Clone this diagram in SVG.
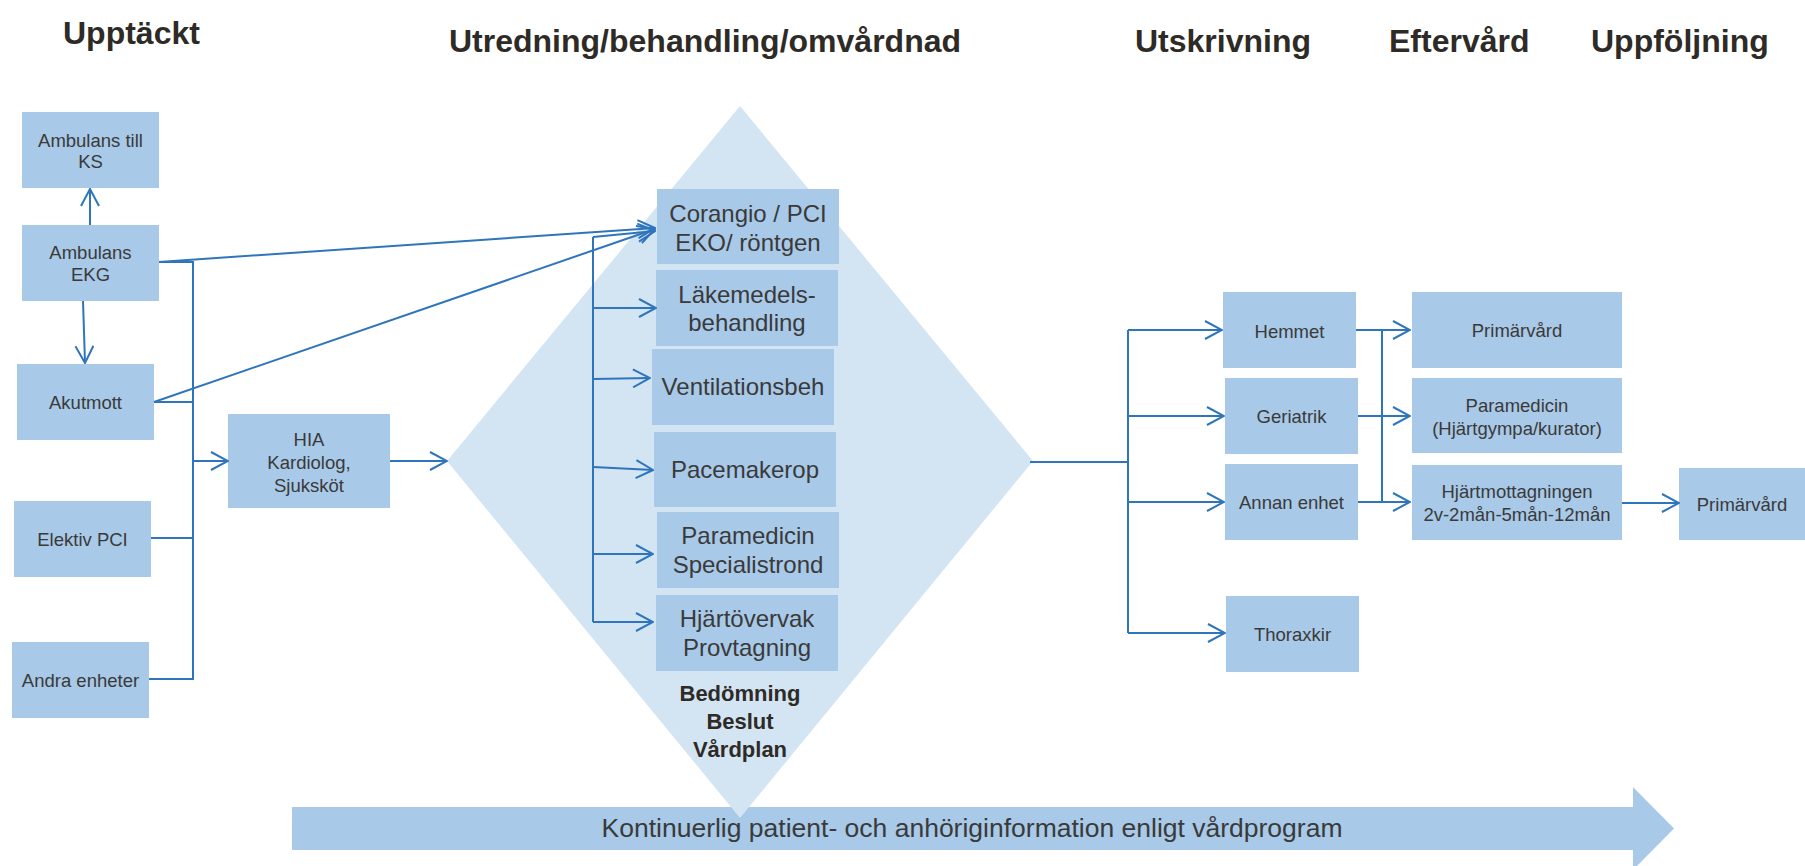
<svg xmlns="http://www.w3.org/2000/svg" width="1805" height="866" viewBox="0 0 1805 866">
<defs>
<style>
.box{fill:#a8c9e7}
.t{font-family:"Liberation Sans",Arial,sans-serif;font-size:18.5px;fill:#3a3a3a;text-anchor:middle}
.tm{font-family:"Liberation Sans",Arial,sans-serif;font-size:24px;fill:#3a3a3a;text-anchor:middle}
.h{font-family:"Liberation Sans",Arial,sans-serif;font-size:32px;font-weight:bold;fill:#2e2b27}
.b{font-family:"Liberation Sans",Arial,sans-serif;font-size:22px;font-weight:bold;fill:#2e2b27;text-anchor:middle}
.c{fill:none;stroke:#2f75bb;stroke-width:2}
.a{marker-end:url(#arr)}
</style>
<marker id="arr" viewBox="0 0 20 20" refX="19" refY="10" markerWidth="20" markerHeight="20" markerUnits="userSpaceOnUse" orient="auto">
<path d="M2,1 L19,10 L2,19" fill="none" stroke="#2f75bb" stroke-width="2"/>
</marker>
</defs>
<rect width="1805" height="866" fill="#ffffff"/>

<g id="headings">
<text class="h" x="63" y="44">Upptäckt</text>
<text class="h" x="449" y="52">Utredning/behandling/omvårdnad</text>
<text class="h" x="1135" y="52">Utskrivning</text>
<text class="h" x="1389" y="52">Eftervård</text>
<text class="h" x="1591" y="52">Uppföljning</text>
</g>

<g id="banner">
<path d="M292,807 L1633,807 L1633,787 L1674,828.5 L1633,870 L1633,850 L292,850 Z" fill="#a8c9e7"/>
<text x="972" y="837" font-family="'Liberation Sans',Arial,sans-serif" font-size="26.5" fill="#3a3a3a" text-anchor="middle">Kontinuerlig patient- och anhöriginformation enligt vårdprogram</text>
</g>

<g id="diamond">
<path d="M740,106 L1033,461 L740,818 L447,461 Z" fill="#d3e4f3"/>
<text class="b" x="740" y="701">Bedömning</text>
<text class="b" x="740" y="729">Beslut</text>
<text class="b" x="740" y="757">Vårdplan</text>
</g>

<g id="n-ambulans-ks"><rect class="box" x="22" y="112" width="137" height="76"/><text class="t" x="90.5" y="147">Ambulans till</text><text class="t" x="90.5" y="168">KS</text></g>
<g id="n-ambulans-ekg"><rect class="box" x="22" y="225" width="137" height="76"/><text class="t" x="90.5" y="259">Ambulans</text><text class="t" x="90.5" y="281">EKG</text></g>
<g id="n-akutmott"><rect class="box" x="17" y="364" width="137" height="76"/><text class="t" x="85.5" y="409">Akutmott</text></g>
<g id="n-elektiv"><rect class="box" x="14" y="501" width="137" height="76"/><text class="t" x="82.5" y="546">Elektiv PCI</text></g>
<g id="n-andra"><rect class="box" x="12" y="642" width="137" height="76"/><text class="t" x="80.5" y="687">Andra enheter</text></g>
<g id="n-hia"><rect class="box" x="228" y="414" width="162" height="94"/><text class="t" x="309" y="446">HIA</text><text class="t" x="309" y="469">Kardiolog,</text><text class="t" x="309" y="492">Sjuksköt</text></g>

<g id="n-corangio"><rect class="box" x="657" y="189" width="182" height="75"/><text class="tm" x="748" y="222">Corangio / PCI</text><text class="tm" x="748" y="251">EKO/ röntgen</text></g>
<g id="n-lakemedel"><rect class="box" x="656" y="270" width="182" height="76"/><text class="tm" x="747" y="303">Läkemedels-</text><text class="tm" x="747" y="331">behandling</text></g>
<g id="n-ventilation"><rect class="box" x="652" y="349" width="182" height="76"/><text class="tm" x="743" y="395">Ventilationsbeh</text></g>
<g id="n-pacemaker"><rect class="box" x="654" y="432" width="182" height="75"/><text class="tm" x="745" y="478">Pacemakerop</text></g>
<g id="n-paramedicin1"><rect class="box" x="657" y="512" width="182" height="76"/><text class="tm" x="748" y="544">Paramedicin</text><text class="tm" x="748" y="573">Specialistrond</text></g>
<g id="n-hjartovervak"><rect class="box" x="656" y="595" width="182" height="76"/><text class="tm" x="747" y="627">Hjärtövervak</text><text class="tm" x="747" y="656">Provtagning</text></g>

<g id="n-hemmet"><rect class="box" x="1223" y="292" width="133" height="76"/><text class="t" x="1289.5" y="338">Hemmet</text></g>
<g id="n-geriatrik"><rect class="box" x="1225" y="378" width="133" height="76"/><text class="t" x="1291.5" y="423">Geriatrik</text></g>
<g id="n-annan"><rect class="box" x="1225" y="464" width="133" height="76"/><text class="t" x="1291.5" y="509">Annan enhet</text></g>
<g id="n-thoraxkir"><rect class="box" x="1226" y="596" width="133" height="76"/><text class="t" x="1292.5" y="641">Thoraxkir</text></g>

<g id="n-primarvard1"><rect class="box" x="1412" y="292" width="210" height="76"/><text class="t" x="1517" y="337">Primärvård</text></g>
<g id="n-paramedicin2"><rect class="box" x="1412" y="378" width="210" height="75"/><text class="t" x="1517" y="412">Paramedicin</text><text class="t" x="1517" y="435">(Hjärtgympa/kurator)</text></g>
<g id="n-hjartmottagning"><rect class="box" x="1412" y="465" width="210" height="75"/><text class="t" x="1517" y="498">Hjärtmottagningen</text><text class="t" x="1517" y="521">2v-2mån-5mån-12mån</text></g>
<g id="n-primarvard2"><rect class="box" x="1679" y="468" width="126" height="72"/><text class="t" x="1742" y="511">Primärvård</text></g>

<g id="connectors">
<line class="c a" x1="90" y1="225" x2="90" y2="189"/>
<line class="c a" x1="83" y1="301" x2="85" y2="363"/>
<line class="c a" x1="159" y1="262" x2="655" y2="228"/>
<line class="c a" x1="154" y1="402" x2="655" y2="229"/>
<polyline class="c" points="159,262 193,262 193,679 149,679"/>
<line class="c" x1="154" y1="402" x2="193" y2="402"/>
<line class="c" x1="151" y1="538" x2="193" y2="538"/>
<line class="c a" x1="193" y1="461" x2="228" y2="461"/>
<line class="c a" x1="390" y1="461" x2="447" y2="461"/>
<line class="c" x1="593" y1="237" x2="593" y2="622"/>
<line class="c a" x1="593" y1="237" x2="655" y2="231"/>
<line class="c a" x1="593" y1="308" x2="656" y2="308"/>
<line class="c a" x1="593" y1="379" x2="650" y2="378"/>
<line class="c a" x1="593" y1="467" x2="653" y2="470"/>
<line class="c a" x1="593" y1="554" x2="653" y2="554"/>
<line class="c a" x1="593" y1="622" x2="653" y2="622"/>
<line class="c" x1="1030" y1="462" x2="1128" y2="462"/>
<line class="c" x1="1128" y1="330" x2="1128" y2="633"/>
<line class="c a" x1="1128" y1="330" x2="1222" y2="330"/>
<line class="c a" x1="1128" y1="416" x2="1224" y2="416"/>
<line class="c a" x1="1128" y1="502" x2="1224" y2="502"/>
<line class="c a" x1="1128" y1="633" x2="1225" y2="633"/>
<line class="c" x1="1382" y1="330" x2="1382" y2="502"/>
<line class="c a" x1="1356" y1="330" x2="1410" y2="330"/>
<line class="c a" x1="1358" y1="416" x2="1410" y2="416"/>
<line class="c a" x1="1358" y1="502" x2="1410" y2="502"/>
<line class="c a" x1="1622" y1="503" x2="1679" y2="503"/>
</g>
</svg>
